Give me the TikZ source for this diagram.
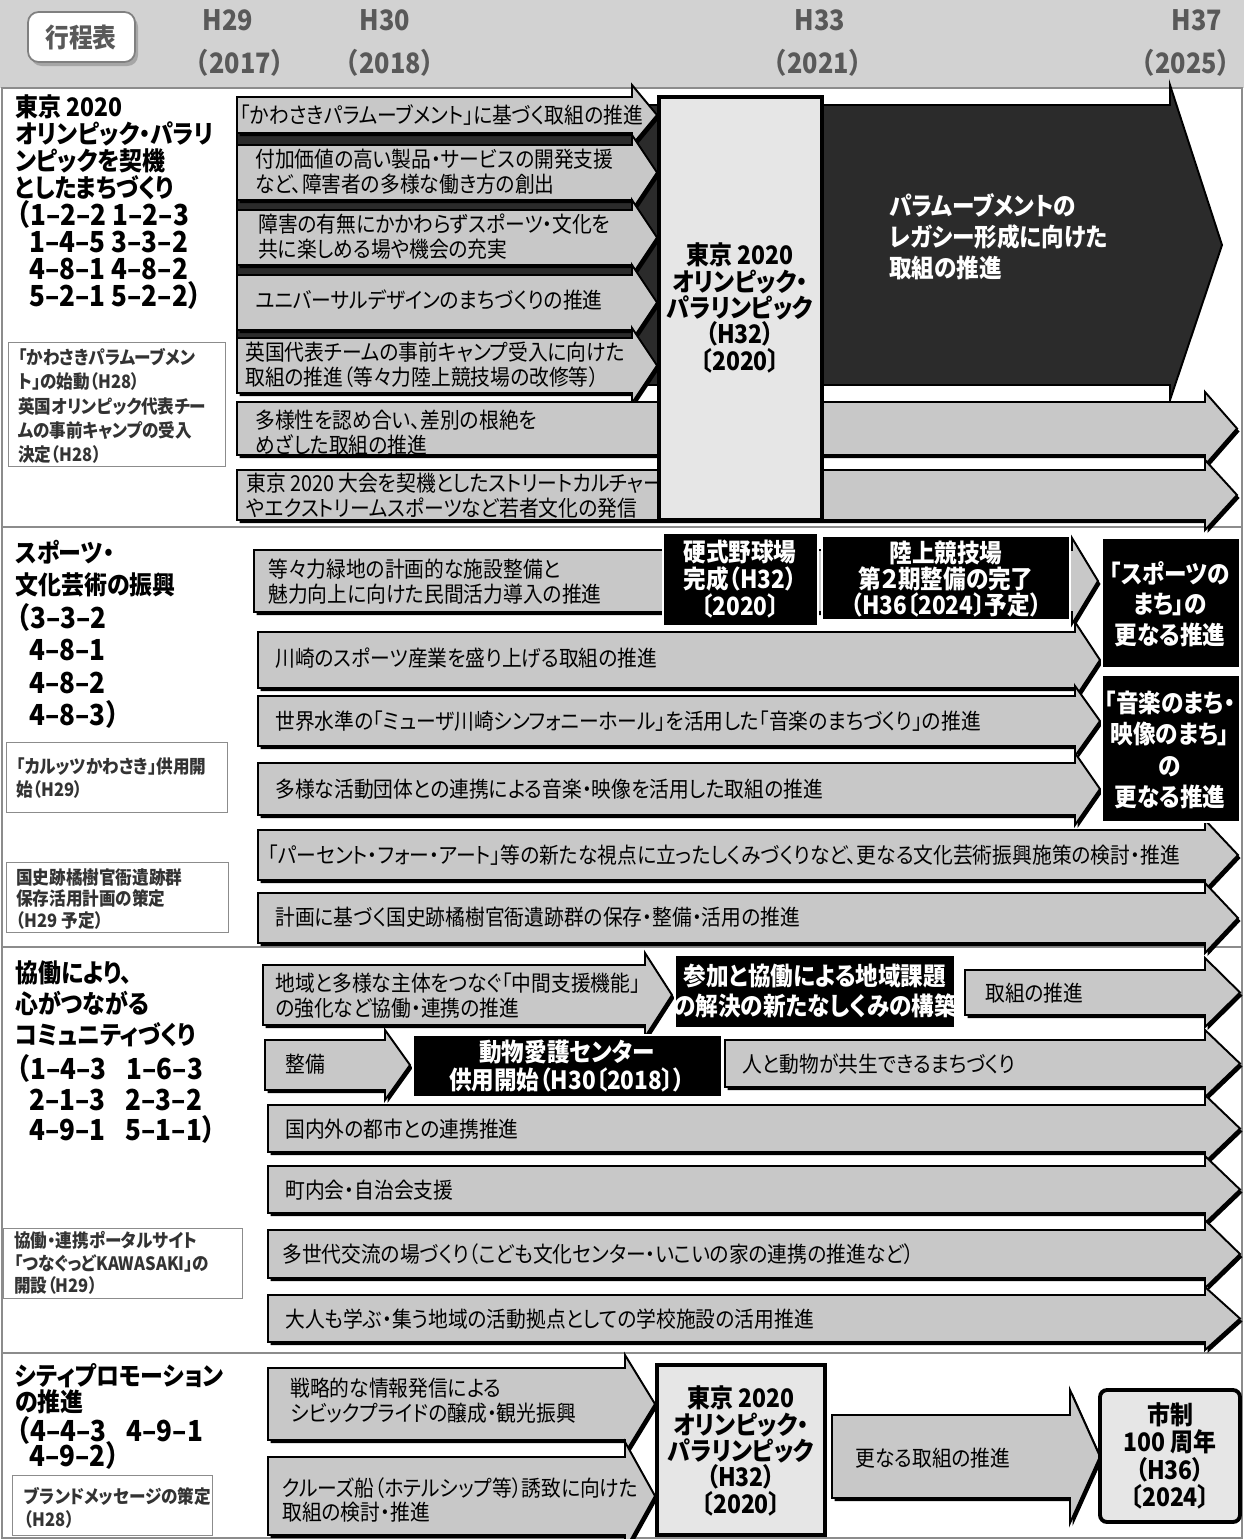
\documentclass[tikz,border=0pt]{standalone}
\usepackage{fontspec}
\setmainfont{Noto Sans CJK JP}[FakeStretch=0.9,RawFeature=+palt]
\newfontfamily\widefont{Noto Sans CJK JP}[FakeStretch=0.9]
\usetikzlibrary{calc}
\definecolor{hdrgray}{HTML}{D2D2D2}
\definecolor{arrgray}{HTML}{C8C8C8}
\definecolor{palegray}{HTML}{E6E6E6}
\definecolor{darkfill}{HTML}{2B2B2B}
\definecolor{framegray}{HTML}{8C8C8C}
\definecolor{yeargray}{HTML}{595959}
\definecolor{notetext}{HTML}{333333}
\lineskiplimit=-100pt
% light arrow with a drop shadow: x1, y1, x2, y2, tip x, head overhang
\newcommand{\flow}[6]{%
  \fill[black,shift={(2.5,3)}] (#1,#2) -- (#3,#2) -- (#3,#2-#6) -- (#5,{(#2+#4)/2}) -- (#3,#4+#6) -- (#3,#4) -- (#1,#4) -- cycle;
  \filldraw[lgt] (#1,#2) -- (#3,#2) -- (#3,#2-#6) -- (#5,{(#2+#4)/2}) -- (#3,#4+#6) -- (#3,#4) -- (#1,#4) -- cycle;}

\begin{document}
\begin{tikzpicture}[x=0.02cm, y=-0.02cm,
	lgt/.style={fill=arrgray, draw=black, line width=1.1pt, line join=miter},
	drk/.style={fill=darkfill, draw=black, line width=1.1pt},
	blk/.style={fill=black, draw=white, line width=0.8pt},
	pale/.style={fill=palegray, draw=black, line width=2.2pt},
	txt/.style={anchor=west, align=left, inner sep=0pt, font=\fontsize{12.5}{14.2}\selectfont},
	ttl/.style={anchor=west, align=left, inner sep=0pt, font=\bfseries\fontsize{14.5}{#1}\selectfont},
	code/.style={anchor=west, align=left, inner sep=0pt, font=\widefont\bfseries\fontsize{16.5}{#1}\selectfont},
	note/.style={anchor=west, align=left, inner sep=0pt, text=notetext, font=\bfseries\fontsize{10.5}{#1}\selectfont},
	wtxt/.style={align=center, inner sep=0pt, text=white, font=\bfseries\fontsize{14.3}{#1}\selectfont},
	ctxt/.style={align=center, inner sep=0pt, font=\bfseries\fontsize{14.5}{#1}\selectfont},
	yr/.style={inner sep=0pt, text=yeargray, font=\widefont\bfseries\fontsize{16}{19}\selectfont}]
	\useasboundingbox (0,0) rectangle (1244,1539);

	% header band
	\fill[hdrgray] (0,0) rectangle (1244,88);
	\fill[gray!70, rounded corners=6pt, shift={(3,4)}] (28,12) rectangle (135,62);
	\filldraw[fill=white, draw=gray, line width=1pt, rounded corners=6pt] (28,12) rectangle (135,62);
	\node[yr, font=\bfseries\fontsize{15}{18}\selectfont] (kotei) at (81,37) {行程表};
	\node[yr] (h29) at (228,20) {H29}; \node[yr] (y17) at (240,63) {（2017）};
	\node[yr] (h30) at (385,20) {H30}; \node[yr] (y18) at (390,63) {（2018）};
	\node[yr] (h33) at (820,20) {H33}; \node[yr] (y21) at (818,63) {（2021）};
	\node[yr] (h37) at (1197,20) {H37}; \node[yr] (y25) at (1186,63) {（2025）};

	% frame and section rules
	\draw[framegray, line width=1.2pt] (2,88) rectangle (1242,1538);
	\draw[framegray, line width=1.2pt] (2,527) -- (1242,527); \draw[framegray, line width=1.2pt] (2,947) -- (1242,947); \draw[framegray, line width=1.2pt] (2,1353) -- (1242,1353);

	% section 1
	\node[ttl=15.3] (olytitle) at (15,147) {東京 2020\\オリンピック・パラリ\\ンピックを契機\\としたまちづくり};
	\node[code=15.3] (olycode) at (4,255) {（1–2–2 1–2–3\\\hspace*{0.5cm}1–4–5 3–3–2\\\hspace*{0.5cm}4–8–1 4–8–2\\\hspace*{0.5cm}5–2–1 5–2–2）};
	\draw[framegray] (8,342) rectangle (225,466);
	\node[note=13.9] (olynote) at (18,406) {「かわさきパラムーブメン\\ト」の始動（H28）\\英国オリンピック代表チー\\ムの事前キャンプの受入\\決定（H28）};

	\filldraw[drk] (237,105) -- (1170,105) -- (1170,85) -- (1222,245) -- (1170,400) -- (1170,385) -- (237,385) -- cycle;
	\node[wtxt=17.6, anchor=west, align=left] (legacy) at (889,237) {パラムーブメントの\\レガシー形成に向けた\\取組の推進};

	\flow{237}{97}{632}{133}{657}{12}
	\node[txt] (paramove) at (240,115) {「かわさきパラムーブメント」に基づく取組の推進};
	\flow{237}{145}{632}{200}{657}{10}
	\node[txt] (workstyle) at (255,172) {付加価値の高い製品・サービスの開発支援\\など、障害者の多様な働き方の創出};
	\flow{237}{210}{632}{265}{657}{10}
	\node[txt] (barrier) at (258,237) {障害の有無にかかわらずスポーツ・文化を\\共に楽しめる場や機会の充実};
	\flow{237}{275}{632}{330}{657}{10}
	\node[txt] (udesign) at (255,300) {ユニバーサルデザインのまちづくりの推進};
	\flow{237}{338}{632}{393}{657}{10}
	\node[txt] (ukcamp) at (245,365) {英国代表チームの事前キャンプ受入に向けた\\取組の推進（等々力陸上競技場の改修等）};
	\flow{237}{402}{1205}{455}{1237}{10}
	\node[txt] (diversity) at (255,433) {多様性を認め合い、差別の根絶を\\めざした取組の推進};
	\flow{237}{470}{1205}{520}{1237}{10}
	\node[txt] (youth) at (246,496) {東京 2020 大会を契機としたストリートカルチャー\\やエクストリームスポーツなど若者文化の発信};

	\filldraw[pale] (659,97) rectangle (822,520);
	\node[ctxt=15] (games1) at (740,308) {東京 2020\\オリンピック・\\パラリンピック\\（H32）\\〔2020〕};

	% section 2
	\node[ttl=18.1] (sporttitle) at (15,569) {スポーツ・\\文化芸術の振興};
	\node[code=18.3] (sportcode) at (4,666) {（3–3–2\\\hspace*{0.5cm}4–8–1\\\hspace*{0.5cm}4–8–2\\\hspace*{0.5cm}4–8–3）};
	\draw[framegray] (6,742) rectangle (227,812);
	\node[note=13.6] (calutz) at (16,778) {「カルッツかわさき」供用開\\始（H29）};
	\draw[framegray] (6,862) rectangle (228,932);
	\node[note=12.2] (tachibana) at (16,899) {国史跡橘樹官衙遺跡群\\保存活用計画の策定\\（H29 予定）};

	\flow{254}{550}{1072}{612}{1098}{12}
	\node[txt] (todoroki) at (268,582) {等々力緑地の計画的な施設整備と\\魅力向上に向けた民間活力導入の推進};
	\filldraw[blk] (663,533) rectangle (818,626);
	\node[wtxt=15.3] (baseball) at (740,579) {硬式野球場\\完成（H32）\\〔2020〕};
	\filldraw[blk] (822,536) rectangle (1070,620);
	\node[wtxt=15] (track) at (946,579) {陸上競技場\\第２期整備の完了\\（H36〔2024〕予定）};

	\flow{258}{632}{1075}{688}{1100}{10}
	\node[txt] (sportind) at (275,658) {川崎のスポーツ産業を盛り上げる取組の推進};
	\flow{258}{696}{1075}{746}{1100}{10}
	\node[txt] (muza) at (275,721) {世界水準の「ミューザ川崎シンフォニーホール」を活用した「音楽のまちづくり」の推進};
	\flow{258}{763}{1075}{815}{1100}{10}
	\node[txt] (music) at (275,789) {多様な活動団体との連携による音楽・映像を活用した取組の推進};
	\flow{258}{830}{1205}{880}{1238}{10}
	\node[txt] (percent) at (268,855) {「パーセント・フォー・アート」等の新たな視点に立ったしくみづくりなど、更なる文化芸術振興施策の検討・推進};
	\flow{258}{893}{1205}{943}{1238}{10}
	\node[txt] (ruins) at (275,917) {計画に基づく国史跡橘樹官衙遺跡群の保存・整備・活用の推進};

	\filldraw[blk] (1102,538) rectangle (1240,668);
	\node[wtxt=17.3] (sporttown) at (1170,604) {「スポーツの\\まち」の\\更なる推進};
	\filldraw[blk] (1102,675) rectangle (1240,822);
	\node[wtxt=18] (musictown) at (1170,750) {「音楽のまち・\\映像のまち」\\の\\更なる推進};

	% section 3
	\node[ttl=17.6] (commtitle) at (15,1004) {協働により、\\心がつながる\\コミュニティづくり};
	\node[code=17.6] (commcode) at (4,1099) {（1–4–3\hspace{0.4cm}1–6–3\\\hspace*{0.5cm}2–1–3\hspace{0.4cm}2–3–2\\\hspace*{0.5cm}4–9–1\hspace{0.4cm}5–1–1）};
	\draw[framegray] (3,1228) rectangle (242,1298);
	\node[note=12.8] (portal) at (14,1263) {協働・連携ポータルサイト\\「つなぐっどKAWASAKI」の\\開設（H29）};

	\flow{263}{965}{645}{1025}{672}{12}
	\node[txt] (support) at (275,996) {地域と多様な主体をつなぐ「中間支援機能」\\の強化など協働・連携の推進};
	\filldraw[blk] (675,955) rectangle (955,1028);
	\node[wtxt=17] (newsys) at (815,991) {参加と協働による地域課題\\の解決の新たなしくみの構築};
	\flow{965}{970}{1205}{1015}{1240}{12}
	\node[txt] (effort) at (985,993) {取組の推進};
	\flow{265}{1040}{385}{1090}{410}{10}
	\node[txt] (build) at (285,1064) {整備};
	\filldraw[blk] (413,1035) rectangle (722,1097);
	\node[wtxt=15.9] (animal) at (567,1066) {動物愛護センター\\供用開始（H30〔2018〕）};
	\flow{725}{1040}{1205}{1087}{1240}{10}
	\node[txt] (coexist) at (742,1064) {人と動物が共生できるまちづくり};
	\flow{268}{1105}{1205}{1152}{1240}{10}
	\node[txt] (cities) at (285,1129) {国内外の都市との連携推進};
	\flow{268}{1166}{1205}{1213}{1240}{10}
	\node[txt] (chonai) at (285,1190) {町内会・自治会支援};
	\flow{268}{1230}{1205}{1278}{1240}{10}
	\node[txt] (multigen) at (282,1254) {多世代交流の場づくり（こども文化センター・いこいの家の連携の推進など）};
	\flow{268}{1295}{1205}{1342}{1240}{8}
	\node[txt] (school) at (285,1319) {大人も学ぶ・集う地域の活動拠点としての学校施設の活用推進};

	% section 4
	\node[ttl=14.7] (promotitle) at (15,1389) {シティプロモーション\\の推進};
	\node[code=14.7] (promocode) at (4,1443) {（4–4–3\hspace{0.4cm}4–9–1\\\hspace*{0.5cm}4–9–2）};
	\draw[framegray] (12,1475) rectangle (212,1535);
	\node[note=13] (brand) at (24,1508) {ブランドメッセージの策定\\（H28）};

	\flow{268}{1368}{625}{1440}{655}{13}
	\node[txt] (civic) at (290,1401) {戦略的な情報発信による\\シビックプライドの醸成・観光振興};
	\flow{268}{1457}{625}{1535}{655}{15}
	\node[txt] (cruise) at (282,1500) {クルーズ船（ホテルシップ等）誘致に向けた\\取組の検討・推進};
	\filldraw[pale] (657,1365) rectangle (825,1535);
	\node[ctxt=15] (games2) at (741,1451) {東京 2020\\オリンピック・\\パラリンピック\\（H32）\\〔2020〕};
	\flow{832}{1415}{1070}{1498}{1100}{25}
	\node[txt] (further) at (855,1458) {更なる取組の推進};
	\filldraw[pale, rounded corners=4pt] (1100,1390) rectangle (1240,1522);
	\node[ctxt=15.5] (centennial) at (1170,1456) {市制\\100 周年\\（H36）\\〔2024〕};
\end{tikzpicture}
\end{document}
